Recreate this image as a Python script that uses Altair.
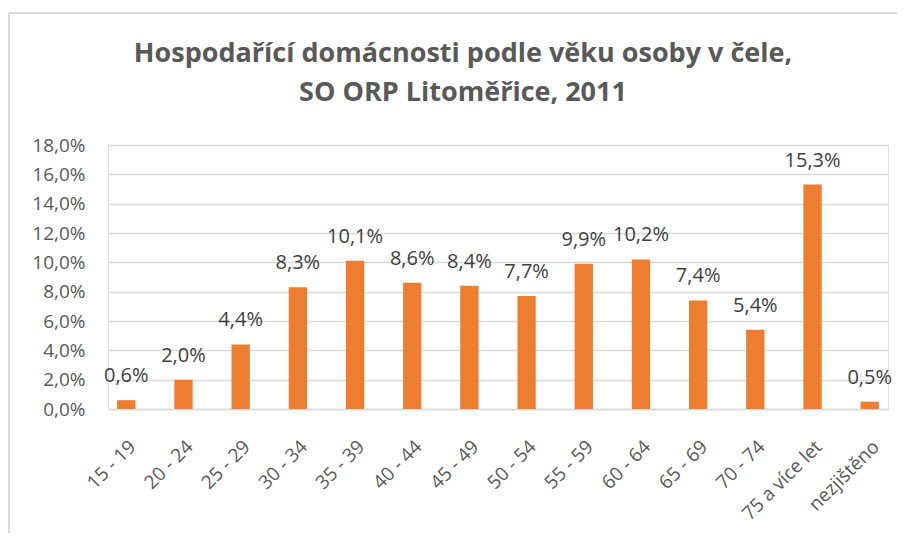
import altair as alt
import pandas as pd

categories = ["15 - 19", "20 - 24", "25 - 29", "30 - 34", "35 - 39", "40 - 44", "45 - 49",
              "50 - 54", "55 - 59", "60 - 64", "65 - 69", "70 - 74", "75 a více let", "nezjištěno"]
values = [0.6, 2.0, 4.4, 8.3, 10.1, 8.6, 8.4, 7.7, 9.9, 10.2, 7.4, 5.4, 15.3, 0.5]
labels = [f"{v:.1f}%".replace(".", ",") for v in values]

df = pd.DataFrame({"cat": categories, "val": [v / 100 for v in values], "lab": labels})

FONT = "Open Sans"
GRAY = "#595959"

x = alt.X("cat:N", sort=categories, title=None,
          scale=alt.Scale(paddingInner=0.68, paddingOuter=0.16),
          axis=alt.Axis(labelAngle=-45, labelFontSize=19, labelColor=GRAY, labelFont=FONT,
                        labelBaseline="top", labelAlign="right",
                        domainColor="#d9d9d9", domainWidth=1.5, ticks=False, labelPadding=28,
                        labelOverlap=False))
y = alt.Y("val:Q", title=None,
          scale=alt.Scale(domain=[0, 0.18]),
          axis=alt.Axis(values=[i / 100 for i in range(0, 19, 2)],
                        labelExpr="replace(format(datum.value, '.1%'), '.', ',')",
                        labelFontSize=19, labelColor=GRAY, labelFont=FONT, domain=False, ticks=False,
                        gridColor="#d9d9d9", gridWidth=1.5, labelPadding=23, labelOverlap=False))

bars = alt.Chart(df).mark_bar(color="#ED7D31").encode(x=x, y=y)
text = alt.Chart(df).mark_text(dy=-24, fontSize=20, color="#404040", font=FONT).encode(
    x=x, y=y, text="lab:N")

frame_top = alt.Chart(df).mark_rule(color="#d9d9d9", strokeWidth=2).encode(
    x=alt.value(-99), x2=alt.value(900), y=alt.value(-132))
frame_left = alt.Chart(df).mark_rule(color="#d9d9d9", strokeWidth=2).encode(
    x=alt.value(-99), y=alt.value(-132), y2=alt.value(400))

chart = alt.layer(frame_top, frame_left, bars, text).properties(
    width=780, height=264,
    title=alt.TitleParams(["Hospodařící domácnosti podle věku osoby v čele,", "SO ORP Litoměřice, 2011"],
                          font=FONT, fontSize=27, fontWeight="bold", color=GRAY, anchor="middle",
                          lineHeight=39, offset=-95, dx=-35),
    padding={"left": 100, "top": 137, "right": 9, "bottom": 124},
    autosize="none",
).configure_view(stroke=None).configure(background="white")

chart.save("out.html", embed_options={"renderer": "svg", "actions": False})
